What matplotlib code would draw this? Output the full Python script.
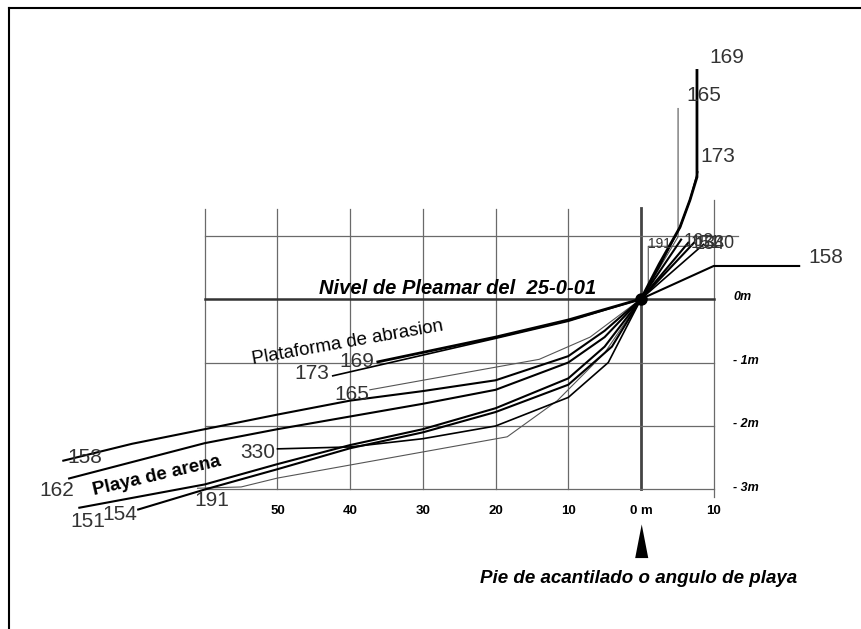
import matplotlib
matplotlib.use("Agg")
import matplotlib.pyplot as plt

# ---------------- data (metres; x<0 seaward, x>0 landward of cliff foot) ----------
p158_x = [-79.6, -70, -60, -50, -40, -30, -20, -10, -5, 0, 10.0, 21.9]
p158_y = [-2.55, -2.28, -2.05, -1.82, -1.6, -1.45, -1.28, -0.9, -0.5, 0, 0.52, 0.52]

p162_x = [-78.8, -60, -50, -40, -30, -20, -10, -5, 0, 6.6]
p162_y = [-2.83, -2.27, -2.05, -1.85, -1.65, -1.43, -1.0, -0.6, 0, 0.9]

p151_x = [-77.4, -60, -50, -40, -30, -20, -10, -5, 0, 7.4]
p151_y = [-3.29, -2.92, -2.6, -2.3, -2.05, -1.72, -1.25, -0.75, 0, 0.9]

p154_x = [-69.3, -60, -50, -40, -30, -20, -10, -4, 0, 5.6]
p154_y = [-3.32, -3.0, -2.68, -2.35, -2.1, -1.78, -1.35, -0.75, 0, 0.95]

p191_x = [-61, -55, -50, -18.4, -11.5, -5, 0, 1.0, 1.0, 6.5]
p191_y = [-2.98, -2.96, -2.82, -2.17, -1.6, -0.85, 0, 0.2, 0.83, 0.83]

p330_x = [-50, -40, -30, -20, -10, -4.5, 0, 8.6]
p330_y = [-2.36, -2.33, -2.2, -2.0, -1.55, -1.0, 0, 0.86]

p165_x = [-37.3, -14, -7, 0, 5.1, 5.1]
p165_y = [-1.43, -0.95, -0.6, 0, 0.98, 3.0]

p173_x = [-42.4, -20, -10, 0, 2.5, 5.36, 6.74, 7.8]
p173_y = [-1.21, -0.62, -0.35, 0, 0.5, 1.13, 1.56, 2.0]

p169_x = [-36.2, -20, -10, 0, 2.5, 5.36, 6.74, 7.7, 7.7]
p169_y = [-0.99, -0.6, -0.33, 0, 0.55, 1.13, 1.56, 1.92, 3.6]

profile_labels = ["169", "165", "173", "158", "158", "162", "151", "154",
                  "191", "330", "165", "173", "169"]
label_x = [11.8, 8.7, 10.6, 25.4, -76.5, -80.3, -76.1, -71.7, -59.0, -52.7, -39.8, -45.3, -39.1]
label_y = [3.81, 3.20, 2.25, 0.65, -2.50, -3.02, -3.51, -3.39, -3.17, -2.41, -1.51, -1.17, -0.99]

cluster_labels = ["191", "162", "151", "154", "330"]
cluster_x = [2.6, 7.9, 8.9, 9.5, 10.8]
cluster_y = [0.86, 0.9, 0.88, 0.86, 0.87]

xtick_vals = [-50, -40, -30, -20, -10, 0, 10]
xtick_labels = ["50", "40", "30", "20", "10", "0 m", "10"]
ytick_vals = [0, -1, -2, -3]
ytick_labels = ["0m", "- 1m", "- 2m", "- 3m"]
grid_x = [-60, -50, -40, -30, -20, -10]
grid_y = [1, -1, -2, -3]

# ---------------- figure ----------------
fig = plt.figure(figsize=(8.62, 6.29), dpi=100)
ax = fig.add_axes([0, 0, 1, 1])
ax.set_xlim(-88.17, 30.40)
ax.set_ylim(-5.197, 4.709)
ax.axis("off")

gcol = "#6a6a6a"
# grid
for gx in grid_x:
    ax.plot([gx, gx], [-3.0, 1.42], color=gcol, lw=0.9, zorder=1)
ax.plot([0, 0], [-3.0, 1.43], color="#444444", lw=2.0, zorder=1)
ax.plot([10, 10], [-3.12, 1.56], color=gcol, lw=0.9, zorder=1)
ax.plot([-60, 13.3], [1, 1], color=gcol, lw=0.9, zorder=1)
for gy in grid_y[1:]:
    ax.plot([-60, 10], [gy, gy], color=gcol, lw=0.9, zorder=1)
ax.plot([-60, 10], [0, 0], color="#333333", lw=1.8, zorder=1)

# profiles
thick = dict(color="black", lw=1.5, zorder=3, solid_capstyle="butt")
thin = dict(color="#555555", lw=0.8, zorder=2)
ax.plot(p158_x, p158_y, **thick)
ax.plot(p162_x, p162_y, **thick)
ax.plot(p151_x, p151_y, **thick)
ax.plot(p154_x, p154_y, **thick)
ax.plot(p330_x, p330_y, color="black", lw=1.2, zorder=3)
ax.plot(p191_x, p191_y, **thin)
ax.plot(p165_x, p165_y, **thin)
ax.plot(p173_x, p173_y, color="black", lw=1.2, zorder=3)
ax.plot(p169_x, p169_y, color="black", lw=2.0, zorder=3)
ax.plot([0], [0], "o", color="black", ms=8, zorder=4)

lab_font = dict(family="Liberation Sans", fontsize=15, color="#333333",
                ha="center", va="center", zorder=5)
for t, x, y in zip(profile_labels, label_x, label_y):
    ax.text(x, y, t, **lab_font)
for t, x, y in zip(cluster_labels, cluster_x, cluster_y):
    ax.text(x, y, t, family="Liberation Sans", fontsize=13 if t != "191" else 10,
            color="#333333", ha="center", va="center", zorder=5)

# axis labels
for v, t in zip(xtick_vals, xtick_labels):
    ax.text(v, -3.34, t, family="Liberation Sans", fontweight="bold",
            fontsize=9.5, ha="center", va="center")
for v, t in zip(ytick_vals, ytick_labels):
    ax.text(12.7, v + 0.03, t, family="Liberation Sans", fontweight="bold",
            style="italic", fontsize=9, ha="left", va="center")

# annotations
ax.text(-25.2, 0.17, "Nivel de Pleamar del  25-0-01", family="Liberation Sans",
        fontweight="bold", style="italic", fontsize=14.5, ha="center", va="center")
ax.text(-40.3, -0.69, "Plataforma de abrasion", family="Liberation Sans",
        fontsize=13.5, rotation=10, ha="center", va="center",
        rotation_mode="anchor")
ax.text(-66.6, -2.78, "Playa de arena", family="Liberation Sans",
        fontweight="bold", fontsize=13.5, rotation=13, ha="center", va="center",
        rotation_mode="anchor")
ax.fill([-0.8, 0.1, 1.0], [-4.08, -3.55, -4.08], color="black", lw=0)
ax.text(-0.3, -4.4, "Pie de acantilado o angulo de playa", family="Liberation Sans",
        fontweight="bold", style="italic", fontsize=13.5, ha="center", va="center")

# frame (left and top)
ax.plot([-86.95, -86.95], [-5.2, 4.58], color="black", lw=1.5, clip_on=False)
ax.plot([-86.95, 30.4], [4.58, 4.58], color="black", lw=1.5, clip_on=False)

fig.savefig("out.png", dpi=100)
